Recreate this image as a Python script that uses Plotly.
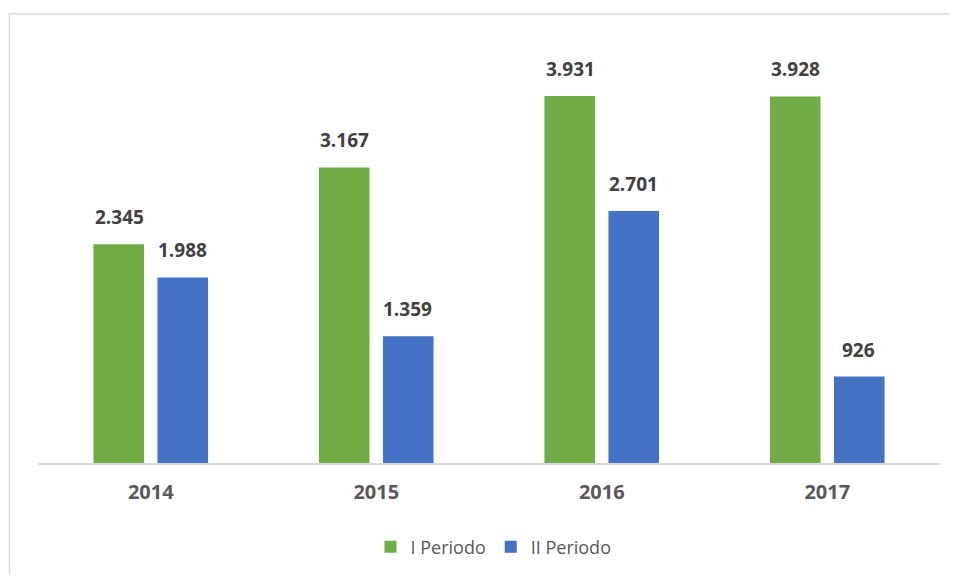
import plotly.graph_objects as go

years = ["2014", "2015", "2016", "2017"]
periodo_1 = [2345, 3167, 3931, 3928]
periodo_2 = [1988, 1359, 2701, 926]
series_names = ["I Periodo", "II Periodo"]
colors = ["#70AD47", "#4472C4"]

def fmt(v):
    return f"{v:,}".replace(",", ".")

fig = go.Figure()
for name, vals, col in zip(series_names, [periodo_1, periodo_2], colors):
    fig.add_trace(go.Bar(x=years, y=vals, name=name, marker=dict(color=col, line=dict(width=0)),
                         hoverinfo="skip"))

# value labels above the bars
annotations = []
offsets = [-0.14, 0.14]
for k, vals in enumerate([periodo_1, periodo_2]):
    for i, v in enumerate(vals):
        annotations.append(dict(x=i + offsets[k], y=v, xref="x", yref="y", text=fmt(v),
                                showarrow=False, yanchor="middle", yshift=27,
                                font=dict(family="Open Sans", size=19, color="#404040", weight="bold")))

# chart-area border: only the left and top edges fall inside the picture
bx0 = (9.5 - 38) / 902
bx1 = (960 - 38) / 902
by0 = (465 - 600) / 422
by1 = (465 - 13.5) / 422
border_path = f"M {bx0},{by0} L {bx0},{by1} L {bx1},{by1}"

# page body has an 8px margin, so the figure is sized/positioned accordingly
fig.update_layout(
    width=942, height=567,
    margin=dict(l=30, r=10, t=35, b=110),
    paper_bgcolor="white", plot_bgcolor="white",
    barmode="group", bargap=0.432, bargroupgap=0.21,
    showlegend=True,
    legend=dict(orientation="h", x=0.505, xanchor="center", y=-0.2, yanchor="middle",
                font=dict(family="Open Sans", size=18, color="#595959")),
    xaxis=dict(type="category", showgrid=False, showline=True, linecolor="#D9D9D9", linewidth=1.5,
               ticks="", ticklabelstandoff=10,
               tickfont=dict(family="Open Sans", size=20, color="#595959", weight="bold")),
    yaxis=dict(range=[0, 4500], visible=False, showgrid=False),
    annotations=annotations,
    shapes=[dict(type="path", xref="paper", yref="paper", path=border_path,
                 line=dict(color="#D9D9D9", width=1.5), layer="below")],
)

fig.write_html("out.html")
